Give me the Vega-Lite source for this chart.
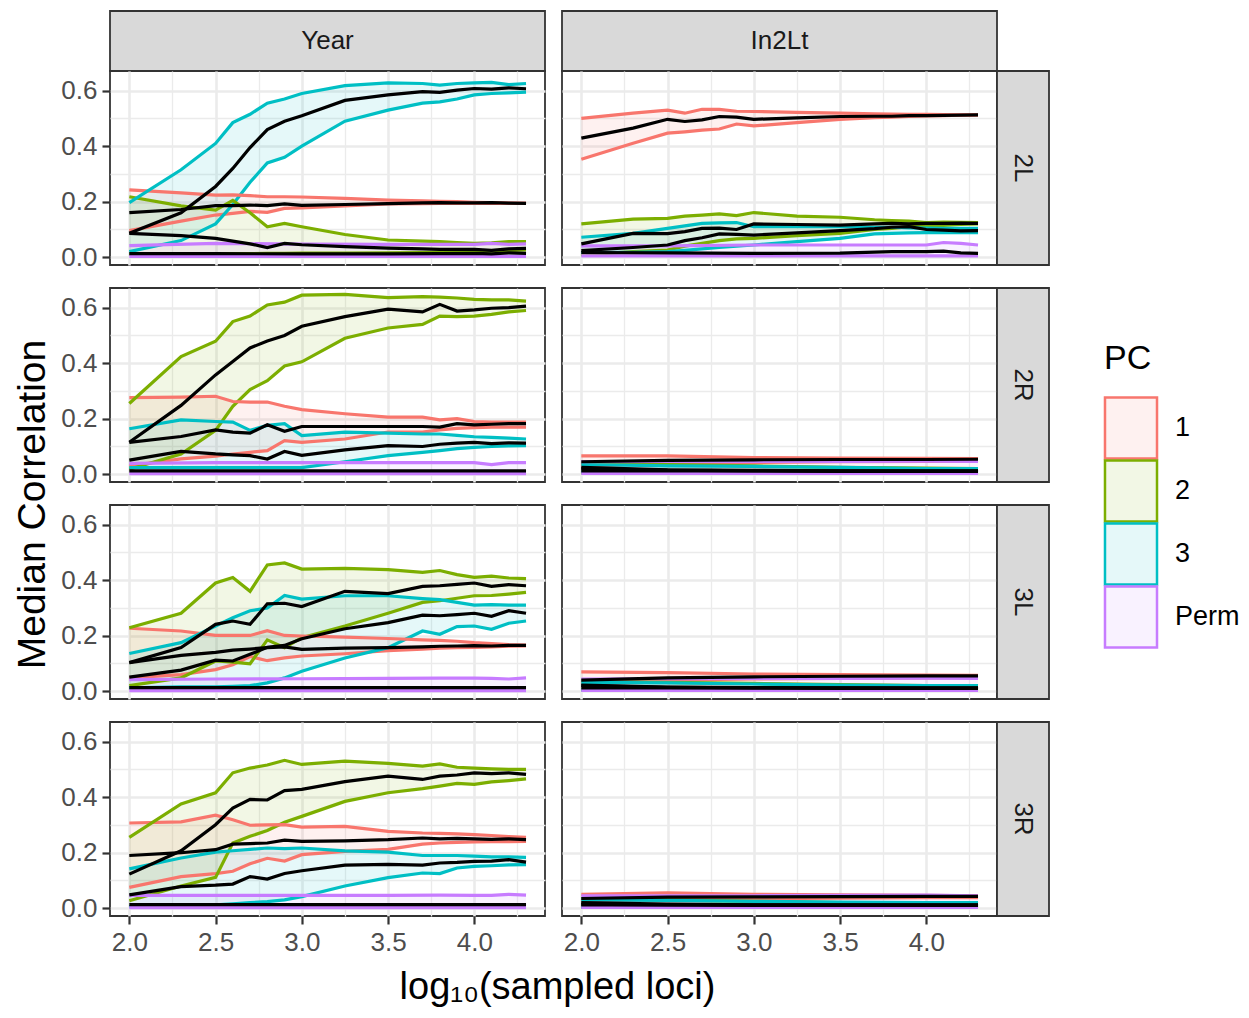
{
  "$schema": "https://vega.github.io/schema/vega-lite/v6.json",
  "padding": {"left": 12, "top": 10, "right": 5, "bottom": 5},
  "datasets": {
    "corr": [
      {"inv":"Year","arm":"2L","pc":"1","x":2,"lo":0.096,"hi":0.243,"med":0.161},
      {"inv":"Year","arm":"2L","pc":"1","x":2.3,"lo":0.13,"hi":0.232,"med":0.172},
      {"inv":"Year","arm":"2L","pc":"1","x":2.5,"lo":0.152,"hi":0.224,"med":0.186},
      {"inv":"Year","arm":"2L","pc":"1","x":2.6,"lo":0.158,"hi":0.225,"med":0.186},
      {"inv":"Year","arm":"2L","pc":"1","x":2.7,"lo":0.165,"hi":0.222,"med":0.188},
      {"inv":"Year","arm":"2L","pc":"1","x":2.8,"lo":0.162,"hi":0.218,"med":0.186},
      {"inv":"Year","arm":"2L","pc":"1","x":2.9,"lo":0.176,"hi":0.218,"med":0.192},
      {"inv":"Year","arm":"2L","pc":"1","x":3,"lo":0.178,"hi":0.217,"med":0.187},
      {"inv":"Year","arm":"2L","pc":"1","x":3.25,"lo":0.185,"hi":0.212,"med":0.19},
      {"inv":"Year","arm":"2L","pc":"1","x":3.5,"lo":0.192,"hi":0.206,"med":0.193},
      {"inv":"Year","arm":"2L","pc":"1","x":3.7,"lo":0.193,"hi":0.203,"med":0.196},
      {"inv":"Year","arm":"2L","pc":"1","x":3.8,"lo":0.194,"hi":0.201,"med":0.197},
      {"inv":"Year","arm":"2L","pc":"1","x":3.9,"lo":0.194,"hi":0.2,"med":0.196},
      {"inv":"Year","arm":"2L","pc":"1","x":4,"lo":0.194,"hi":0.198,"med":0.196},
      {"inv":"Year","arm":"2L","pc":"1","x":4.1,"lo":0.195,"hi":0.197,"med":0.197},
      {"inv":"Year","arm":"2L","pc":"1","x":4.2,"lo":0.194,"hi":0.195,"med":0.195},
      {"inv":"Year","arm":"2L","pc":"1","x":4.3,"lo":0.194,"hi":0.194,"med":0.194},

      {"inv":"Year","arm":"2L","pc":"2","x":2,"lo":0.012,"hi":0.218,"med":0.086},
      {"inv":"Year","arm":"2L","pc":"2","x":2.3,"lo":0.012,"hi":0.185,"med":0.078},
      {"inv":"Year","arm":"2L","pc":"2","x":2.5,"lo":0.012,"hi":0.17,"med":0.068},
      {"inv":"Year","arm":"2L","pc":"2","x":2.6,"lo":0.013,"hi":0.205,"med":0.058},
      {"inv":"Year","arm":"2L","pc":"2","x":2.7,"lo":0.013,"hi":0.16,"med":0.048},
      {"inv":"Year","arm":"2L","pc":"2","x":2.8,"lo":0.014,"hi":0.11,"med":0.035},
      {"inv":"Year","arm":"2L","pc":"2","x":2.9,"lo":0.014,"hi":0.122,"med":0.05},
      {"inv":"Year","arm":"2L","pc":"2","x":3,"lo":0.015,"hi":0.11,"med":0.045},
      {"inv":"Year","arm":"2L","pc":"2","x":3.25,"lo":0.015,"hi":0.082,"med":0.038},
      {"inv":"Year","arm":"2L","pc":"2","x":3.5,"lo":0.016,"hi":0.062,"med":0.033},
      {"inv":"Year","arm":"2L","pc":"2","x":3.7,"lo":0.017,"hi":0.058,"med":0.03},
      {"inv":"Year","arm":"2L","pc":"2","x":3.8,"lo":0.018,"hi":0.056,"med":0.028},
      {"inv":"Year","arm":"2L","pc":"2","x":3.9,"lo":0.019,"hi":0.053,"med":0.028},
      {"inv":"Year","arm":"2L","pc":"2","x":4,"lo":0.02,"hi":0.05,"med":0.028},
      {"inv":"Year","arm":"2L","pc":"2","x":4.1,"lo":0.022,"hi":0.052,"med":0.025},
      {"inv":"Year","arm":"2L","pc":"2","x":4.2,"lo":0.024,"hi":0.056,"med":0.03},
      {"inv":"Year","arm":"2L","pc":"2","x":4.3,"lo":0.026,"hi":0.056,"med":0.032},

      {"inv":"Year","arm":"2L","pc":"3","x":2,"lo":0.02,"hi":0.197,"med":0.086},
      {"inv":"Year","arm":"2L","pc":"3","x":2.3,"lo":0.06,"hi":0.315,"med":0.16},
      {"inv":"Year","arm":"2L","pc":"3","x":2.5,"lo":0.12,"hi":0.41,"med":0.255},
      {"inv":"Year","arm":"2L","pc":"3","x":2.6,"lo":0.19,"hi":0.485,"med":0.32},
      {"inv":"Year","arm":"2L","pc":"3","x":2.7,"lo":0.27,"hi":0.515,"med":0.395},
      {"inv":"Year","arm":"2L","pc":"3","x":2.8,"lo":0.34,"hi":0.555,"med":0.46},
      {"inv":"Year","arm":"2L","pc":"3","x":2.9,"lo":0.36,"hi":0.57,"med":0.49},
      {"inv":"Year","arm":"2L","pc":"3","x":3,"lo":0.4,"hi":0.59,"med":0.51},
      {"inv":"Year","arm":"2L","pc":"3","x":3.25,"lo":0.49,"hi":0.618,"med":0.565},
      {"inv":"Year","arm":"2L","pc":"3","x":3.5,"lo":0.53,"hi":0.628,"med":0.585},
      {"inv":"Year","arm":"2L","pc":"3","x":3.7,"lo":0.555,"hi":0.626,"med":0.597},
      {"inv":"Year","arm":"2L","pc":"3","x":3.8,"lo":0.56,"hi":0.62,"med":0.594},
      {"inv":"Year","arm":"2L","pc":"3","x":3.9,"lo":0.57,"hi":0.626,"med":0.602},
      {"inv":"Year","arm":"2L","pc":"3","x":4,"lo":0.585,"hi":0.628,"med":0.608},
      {"inv":"Year","arm":"2L","pc":"3","x":4.1,"lo":0.59,"hi":0.63,"med":0.606},
      {"inv":"Year","arm":"2L","pc":"3","x":4.2,"lo":0.592,"hi":0.622,"med":0.61},
      {"inv":"Year","arm":"2L","pc":"3","x":4.3,"lo":0.595,"hi":0.626,"med":0.607},

      {"inv":"Year","arm":"2L","pc":"Perm","x":2,"lo":0.003,"hi":0.042,"med":0.013},
      {"inv":"Year","arm":"2L","pc":"Perm","x":2.5,"lo":0.003,"hi":0.05,"med":0.013},
      {"inv":"Year","arm":"2L","pc":"Perm","x":3,"lo":0.003,"hi":0.047,"med":0.012},
      {"inv":"Year","arm":"2L","pc":"Perm","x":3.5,"lo":0.003,"hi":0.046,"med":0.012},
      {"inv":"Year","arm":"2L","pc":"Perm","x":3.8,"lo":0.003,"hi":0.046,"med":0.013},
      {"inv":"Year","arm":"2L","pc":"Perm","x":4,"lo":0.003,"hi":0.046,"med":0.014},
      {"inv":"Year","arm":"2L","pc":"Perm","x":4.1,"lo":0.003,"hi":0.05,"med":0.012},
      {"inv":"Year","arm":"2L","pc":"Perm","x":4.2,"lo":0.003,"hi":0.046,"med":0.016},
      {"inv":"Year","arm":"2L","pc":"Perm","x":4.3,"lo":0.003,"hi":0.048,"med":0.014},

      {"inv":"Year","arm":"2R","pc":"1","x":2,"lo":0.03,"hi":0.276,"med":0.115},
      {"inv":"Year","arm":"2R","pc":"1","x":2.3,"lo":0.055,"hi":0.278,"med":0.136},
      {"inv":"Year","arm":"2R","pc":"1","x":2.5,"lo":0.065,"hi":0.281,"med":0.16},
      {"inv":"Year","arm":"2R","pc":"1","x":2.6,"lo":0.073,"hi":0.262,"med":0.152},
      {"inv":"Year","arm":"2R","pc":"1","x":2.7,"lo":0.079,"hi":0.26,"med":0.148},
      {"inv":"Year","arm":"2R","pc":"1","x":2.8,"lo":0.085,"hi":0.26,"med":0.178},
      {"inv":"Year","arm":"2R","pc":"1","x":2.9,"lo":0.121,"hi":0.245,"med":0.155},
      {"inv":"Year","arm":"2R","pc":"1","x":3,"lo":0.115,"hi":0.233,"med":0.172},
      {"inv":"Year","arm":"2R","pc":"1","x":3.25,"lo":0.127,"hi":0.218,"med":0.172},
      {"inv":"Year","arm":"2R","pc":"1","x":3.5,"lo":0.152,"hi":0.206,"med":0.172},
      {"inv":"Year","arm":"2R","pc":"1","x":3.7,"lo":0.152,"hi":0.206,"med":0.172},
      {"inv":"Year","arm":"2R","pc":"1","x":3.8,"lo":0.16,"hi":0.196,"med":0.17},
      {"inv":"Year","arm":"2R","pc":"1","x":3.9,"lo":0.165,"hi":0.2,"med":0.182},
      {"inv":"Year","arm":"2R","pc":"1","x":4,"lo":0.168,"hi":0.19,"med":0.178},
      {"inv":"Year","arm":"2R","pc":"1","x":4.1,"lo":0.17,"hi":0.188,"med":0.18},
      {"inv":"Year","arm":"2R","pc":"1","x":4.2,"lo":0.17,"hi":0.188,"med":0.182},
      {"inv":"Year","arm":"2R","pc":"1","x":4.3,"lo":0.17,"hi":0.188,"med":0.182},

      {"inv":"Year","arm":"2R","pc":"2","x":2,"lo":0.018,"hi":0.255,"med":0.115},
      {"inv":"Year","arm":"2R","pc":"2","x":2.3,"lo":0.073,"hi":0.424,"med":0.248},
      {"inv":"Year","arm":"2R","pc":"2","x":2.5,"lo":0.158,"hi":0.479,"med":0.358},
      {"inv":"Year","arm":"2R","pc":"2","x":2.6,"lo":0.245,"hi":0.55,"med":0.406},
      {"inv":"Year","arm":"2R","pc":"2","x":2.7,"lo":0.305,"hi":0.57,"med":0.455},
      {"inv":"Year","arm":"2R","pc":"2","x":2.8,"lo":0.337,"hi":0.61,"med":0.48},
      {"inv":"Year","arm":"2R","pc":"2","x":2.9,"lo":0.39,"hi":0.62,"med":0.5},
      {"inv":"Year","arm":"2R","pc":"2","x":3,"lo":0.405,"hi":0.645,"med":0.533},
      {"inv":"Year","arm":"2R","pc":"2","x":3.25,"lo":0.49,"hi":0.648,"med":0.568},
      {"inv":"Year","arm":"2R","pc":"2","x":3.5,"lo":0.527,"hi":0.636,"med":0.595},
      {"inv":"Year","arm":"2R","pc":"2","x":3.7,"lo":0.54,"hi":0.64,"med":0.585},
      {"inv":"Year","arm":"2R","pc":"2","x":3.8,"lo":0.57,"hi":0.638,"med":0.612},
      {"inv":"Year","arm":"2R","pc":"2","x":3.9,"lo":0.568,"hi":0.635,"med":0.588},
      {"inv":"Year","arm":"2R","pc":"2","x":4,"lo":0.57,"hi":0.63,"med":0.592},
      {"inv":"Year","arm":"2R","pc":"2","x":4.1,"lo":0.576,"hi":0.628,"med":0.598},
      {"inv":"Year","arm":"2R","pc":"2","x":4.2,"lo":0.585,"hi":0.628,"med":0.6},
      {"inv":"Year","arm":"2R","pc":"2","x":4.3,"lo":0.59,"hi":0.624,"med":0.606},

      {"inv":"Year","arm":"2R","pc":"3","x":2,"lo":0.024,"hi":0.164,"med":0.051},
      {"inv":"Year","arm":"2R","pc":"3","x":2.3,"lo":0.024,"hi":0.196,"med":0.082},
      {"inv":"Year","arm":"2R","pc":"3","x":2.5,"lo":0.024,"hi":0.19,"med":0.073},
      {"inv":"Year","arm":"2R","pc":"3","x":2.6,"lo":0.024,"hi":0.188,"med":0.07},
      {"inv":"Year","arm":"2R","pc":"3","x":2.7,"lo":0.024,"hi":0.158,"med":0.067},
      {"inv":"Year","arm":"2R","pc":"3","x":2.8,"lo":0.024,"hi":0.176,"med":0.055},
      {"inv":"Year","arm":"2R","pc":"3","x":2.9,"lo":0.024,"hi":0.182,"med":0.082},
      {"inv":"Year","arm":"2R","pc":"3","x":3,"lo":0.024,"hi":0.139,"med":0.068},
      {"inv":"Year","arm":"2R","pc":"3","x":3.25,"lo":0.045,"hi":0.152,"med":0.088},
      {"inv":"Year","arm":"2R","pc":"3","x":3.5,"lo":0.067,"hi":0.148,"med":0.103},
      {"inv":"Year","arm":"2R","pc":"3","x":3.7,"lo":0.079,"hi":0.145,"med":0.1},
      {"inv":"Year","arm":"2R","pc":"3","x":3.8,"lo":0.085,"hi":0.145,"med":0.108},
      {"inv":"Year","arm":"2R","pc":"3","x":3.9,"lo":0.092,"hi":0.14,"med":0.112},
      {"inv":"Year","arm":"2R","pc":"3","x":4,"lo":0.097,"hi":0.135,"med":0.115},
      {"inv":"Year","arm":"2R","pc":"3","x":4.1,"lo":0.1,"hi":0.133,"med":0.11},
      {"inv":"Year","arm":"2R","pc":"3","x":4.2,"lo":0.102,"hi":0.13,"med":0.113},
      {"inv":"Year","arm":"2R","pc":"3","x":4.3,"lo":0.103,"hi":0.127,"med":0.112},

      {"inv":"Year","arm":"2R","pc":"Perm","x":2,"lo":0.002,"hi":0.039,"med":0.012},
      {"inv":"Year","arm":"2R","pc":"Perm","x":2.5,"lo":0.002,"hi":0.042,"med":0.012},
      {"inv":"Year","arm":"2R","pc":"Perm","x":3,"lo":0.002,"hi":0.042,"med":0.012},
      {"inv":"Year","arm":"2R","pc":"Perm","x":3.5,"lo":0.002,"hi":0.042,"med":0.012},
      {"inv":"Year","arm":"2R","pc":"Perm","x":3.8,"lo":0.002,"hi":0.042,"med":0.012},
      {"inv":"Year","arm":"2R","pc":"Perm","x":4,"lo":0.002,"hi":0.042,"med":0.012},
      {"inv":"Year","arm":"2R","pc":"Perm","x":4.1,"lo":0.002,"hi":0.035,"med":0.012},
      {"inv":"Year","arm":"2R","pc":"Perm","x":4.2,"lo":0.002,"hi":0.042,"med":0.012},
      {"inv":"Year","arm":"2R","pc":"Perm","x":4.3,"lo":0.002,"hi":0.042,"med":0.012},

      {"inv":"Year","arm":"3L","pc":"1","x":2,"lo":0.048,"hi":0.227,"med":0.103},
      {"inv":"Year","arm":"3L","pc":"1","x":2.3,"lo":0.06,"hi":0.217,"med":0.129},
      {"inv":"Year","arm":"3L","pc":"1","x":2.5,"lo":0.078,"hi":0.201,"med":0.14},
      {"inv":"Year","arm":"3L","pc":"1","x":2.6,"lo":0.095,"hi":0.201,"med":0.148},
      {"inv":"Year","arm":"3L","pc":"1","x":2.7,"lo":0.125,"hi":0.201,"med":0.152},
      {"inv":"Year","arm":"3L","pc":"1","x":2.8,"lo":0.11,"hi":0.218,"med":0.157},
      {"inv":"Year","arm":"3L","pc":"1","x":2.9,"lo":0.12,"hi":0.201,"med":0.16},
      {"inv":"Year","arm":"3L","pc":"1","x":3,"lo":0.127,"hi":0.199,"med":0.151},
      {"inv":"Year","arm":"3L","pc":"1","x":3.25,"lo":0.135,"hi":0.195,"med":0.155},
      {"inv":"Year","arm":"3L","pc":"1","x":3.5,"lo":0.146,"hi":0.19,"med":0.157},
      {"inv":"Year","arm":"3L","pc":"1","x":3.7,"lo":0.152,"hi":0.185,"med":0.16},
      {"inv":"Year","arm":"3L","pc":"1","x":3.8,"lo":0.155,"hi":0.183,"med":0.162},
      {"inv":"Year","arm":"3L","pc":"1","x":3.9,"lo":0.157,"hi":0.18,"med":0.163},
      {"inv":"Year","arm":"3L","pc":"1","x":4,"lo":0.158,"hi":0.175,"med":0.164},
      {"inv":"Year","arm":"3L","pc":"1","x":4.1,"lo":0.16,"hi":0.172,"med":0.163},
      {"inv":"Year","arm":"3L","pc":"1","x":4.2,"lo":0.162,"hi":0.168,"med":0.165},
      {"inv":"Year","arm":"3L","pc":"1","x":4.3,"lo":0.163,"hi":0.166,"med":0.165},

      {"inv":"Year","arm":"3L","pc":"2","x":2,"lo":0.02,"hi":0.229,"med":0.103},
      {"inv":"Year","arm":"3L","pc":"2","x":2.3,"lo":0.048,"hi":0.281,"med":0.157},
      {"inv":"Year","arm":"3L","pc":"2","x":2.5,"lo":0.109,"hi":0.39,"med":0.241},
      {"inv":"Year","arm":"3L","pc":"2","x":2.6,"lo":0.105,"hi":0.41,"med":0.253},
      {"inv":"Year","arm":"3L","pc":"2","x":2.7,"lo":0.099,"hi":0.36,"med":0.241},
      {"inv":"Year","arm":"3L","pc":"2","x":2.8,"lo":0.185,"hi":0.455,"med":0.315},
      {"inv":"Year","arm":"3L","pc":"2","x":2.9,"lo":0.157,"hi":0.462,"med":0.317},
      {"inv":"Year","arm":"3L","pc":"2","x":3,"lo":0.193,"hi":0.44,"med":0.305},
      {"inv":"Year","arm":"3L","pc":"2","x":3.25,"lo":0.235,"hi":0.443,"med":0.36},
      {"inv":"Year","arm":"3L","pc":"2","x":3.5,"lo":0.281,"hi":0.438,"med":0.352},
      {"inv":"Year","arm":"3L","pc":"2","x":3.7,"lo":0.32,"hi":0.428,"med":0.378},
      {"inv":"Year","arm":"3L","pc":"2","x":3.8,"lo":0.326,"hi":0.435,"med":0.38},
      {"inv":"Year","arm":"3L","pc":"2","x":3.9,"lo":0.335,"hi":0.42,"med":0.385},
      {"inv":"Year","arm":"3L","pc":"2","x":4,"lo":0.344,"hi":0.41,"med":0.39},
      {"inv":"Year","arm":"3L","pc":"2","x":4.1,"lo":0.345,"hi":0.415,"med":0.378},
      {"inv":"Year","arm":"3L","pc":"2","x":4.2,"lo":0.35,"hi":0.408,"med":0.384},
      {"inv":"Year","arm":"3L","pc":"2","x":4.3,"lo":0.356,"hi":0.406,"med":0.38},

      {"inv":"Year","arm":"3L","pc":"3","x":2,"lo":0.012,"hi":0.136,"med":0.051},
      {"inv":"Year","arm":"3L","pc":"3","x":2.3,"lo":0.016,"hi":0.175,"med":0.076},
      {"inv":"Year","arm":"3L","pc":"3","x":2.5,"lo":0.016,"hi":0.235,"med":0.112},
      {"inv":"Year","arm":"3L","pc":"3","x":2.6,"lo":0.018,"hi":0.265,"med":0.109},
      {"inv":"Year","arm":"3L","pc":"3","x":2.7,"lo":0.02,"hi":0.29,"med":0.133},
      {"inv":"Year","arm":"3L","pc":"3","x":2.8,"lo":0.03,"hi":0.3,"med":0.158},
      {"inv":"Year","arm":"3L","pc":"3","x":2.9,"lo":0.048,"hi":0.345,"med":0.165},
      {"inv":"Year","arm":"3L","pc":"3","x":3,"lo":0.072,"hi":0.332,"med":0.189},
      {"inv":"Year","arm":"3L","pc":"3","x":3.25,"lo":0.12,"hi":0.344,"med":0.225},
      {"inv":"Year","arm":"3L","pc":"3","x":3.5,"lo":0.157,"hi":0.344,"med":0.247},
      {"inv":"Year","arm":"3L","pc":"3","x":3.7,"lo":0.217,"hi":0.334,"med":0.274},
      {"inv":"Year","arm":"3L","pc":"3","x":3.8,"lo":0.205,"hi":0.33,"med":0.272},
      {"inv":"Year","arm":"3L","pc":"3","x":3.9,"lo":0.233,"hi":0.32,"med":0.276},
      {"inv":"Year","arm":"3L","pc":"3","x":4,"lo":0.235,"hi":0.31,"med":0.281},
      {"inv":"Year","arm":"3L","pc":"3","x":4.1,"lo":0.223,"hi":0.312,"med":0.27},
      {"inv":"Year","arm":"3L","pc":"3","x":4.2,"lo":0.245,"hi":0.31,"med":0.29},
      {"inv":"Year","arm":"3L","pc":"3","x":4.3,"lo":0.253,"hi":0.31,"med":0.281},

      {"inv":"Year","arm":"3L","pc":"Perm","x":2,"lo":0.002,"hi":0.042,"med":0.013},
      {"inv":"Year","arm":"3L","pc":"Perm","x":2.5,"lo":0.002,"hi":0.044,"med":0.013},
      {"inv":"Year","arm":"3L","pc":"Perm","x":3,"lo":0.002,"hi":0.045,"med":0.013},
      {"inv":"Year","arm":"3L","pc":"Perm","x":3.5,"lo":0.002,"hi":0.046,"med":0.013},
      {"inv":"Year","arm":"3L","pc":"Perm","x":3.8,"lo":0.002,"hi":0.047,"med":0.013},
      {"inv":"Year","arm":"3L","pc":"Perm","x":4,"lo":0.002,"hi":0.047,"med":0.013},
      {"inv":"Year","arm":"3L","pc":"Perm","x":4.1,"lo":0.002,"hi":0.046,"med":0.013},
      {"inv":"Year","arm":"3L","pc":"Perm","x":4.2,"lo":0.002,"hi":0.044,"med":0.013},
      {"inv":"Year","arm":"3L","pc":"Perm","x":4.3,"lo":0.002,"hi":0.048,"med":0.013},

      {"inv":"Year","arm":"3R","pc":"1","x":2,"lo":0.075,"hi":0.307,"med":0.19},
      {"inv":"Year","arm":"3R","pc":"1","x":2.3,"lo":0.114,"hi":0.311,"med":0.2},
      {"inv":"Year","arm":"3R","pc":"1","x":2.5,"lo":0.125,"hi":0.335,"med":0.211},
      {"inv":"Year","arm":"3R","pc":"1","x":2.6,"lo":0.133,"hi":0.319,"med":0.231},
      {"inv":"Year","arm":"3R","pc":"1","x":2.7,"lo":0.16,"hi":0.299,"med":0.233},
      {"inv":"Year","arm":"3R","pc":"1","x":2.8,"lo":0.18,"hi":0.3,"med":0.235},
      {"inv":"Year","arm":"3R","pc":"1","x":2.9,"lo":0.17,"hi":0.301,"med":0.245},
      {"inv":"Year","arm":"3R","pc":"1","x":3,"lo":0.193,"hi":0.292,"med":0.241},
      {"inv":"Year","arm":"3R","pc":"1","x":3.25,"lo":0.205,"hi":0.295,"med":0.243},
      {"inv":"Year","arm":"3R","pc":"1","x":3.5,"lo":0.212,"hi":0.277,"med":0.247},
      {"inv":"Year","arm":"3R","pc":"1","x":3.7,"lo":0.231,"hi":0.271,"med":0.253},
      {"inv":"Year","arm":"3R","pc":"1","x":3.8,"lo":0.235,"hi":0.27,"med":0.25},
      {"inv":"Year","arm":"3R","pc":"1","x":3.9,"lo":0.237,"hi":0.268,"med":0.252},
      {"inv":"Year","arm":"3R","pc":"1","x":4,"lo":0.239,"hi":0.265,"med":0.25},
      {"inv":"Year","arm":"3R","pc":"1","x":4.1,"lo":0.24,"hi":0.262,"med":0.248},
      {"inv":"Year","arm":"3R","pc":"1","x":4.2,"lo":0.24,"hi":0.258,"med":0.25},
      {"inv":"Year","arm":"3R","pc":"1","x":4.3,"lo":0.241,"hi":0.255,"med":0.247},

      {"inv":"Year","arm":"3R","pc":"2","x":2,"lo":0.027,"hi":0.255,"med":0.123},
      {"inv":"Year","arm":"3R","pc":"2","x":2.3,"lo":0.08,"hi":0.376,"med":0.207},
      {"inv":"Year","arm":"3R","pc":"2","x":2.5,"lo":0.111,"hi":0.416,"med":0.301},
      {"inv":"Year","arm":"3R","pc":"2","x":2.6,"lo":0.235,"hi":0.488,"med":0.361},
      {"inv":"Year","arm":"3R","pc":"2","x":2.7,"lo":0.259,"hi":0.505,"med":0.392},
      {"inv":"Year","arm":"3R","pc":"2","x":2.8,"lo":0.28,"hi":0.516,"med":0.39},
      {"inv":"Year","arm":"3R","pc":"2","x":2.9,"lo":0.31,"hi":0.533,"med":0.424},
      {"inv":"Year","arm":"3R","pc":"2","x":3,"lo":0.331,"hi":0.518,"med":0.428},
      {"inv":"Year","arm":"3R","pc":"2","x":3.25,"lo":0.385,"hi":0.53,"med":0.456},
      {"inv":"Year","arm":"3R","pc":"2","x":3.5,"lo":0.416,"hi":0.522,"med":0.476},
      {"inv":"Year","arm":"3R","pc":"2","x":3.7,"lo":0.431,"hi":0.512,"med":0.464},
      {"inv":"Year","arm":"3R","pc":"2","x":3.8,"lo":0.44,"hi":0.52,"med":0.476},
      {"inv":"Year","arm":"3R","pc":"2","x":3.9,"lo":0.45,"hi":0.508,"med":0.48},
      {"inv":"Year","arm":"3R","pc":"2","x":4,"lo":0.446,"hi":0.505,"med":0.488},
      {"inv":"Year","arm":"3R","pc":"2","x":4.1,"lo":0.455,"hi":0.502,"med":0.485},
      {"inv":"Year","arm":"3R","pc":"2","x":4.2,"lo":0.46,"hi":0.5,"med":0.488},
      {"inv":"Year","arm":"3R","pc":"2","x":4.3,"lo":0.466,"hi":0.5,"med":0.482},

      {"inv":"Year","arm":"3R","pc":"3","x":2,"lo":0.006,"hi":0.142,"med":0.048},
      {"inv":"Year","arm":"3R","pc":"3","x":2.3,"lo":0.01,"hi":0.181,"med":0.078},
      {"inv":"Year","arm":"3R","pc":"3","x":2.5,"lo":0.012,"hi":0.202,"med":0.083},
      {"inv":"Year","arm":"3R","pc":"3","x":2.6,"lo":0.016,"hi":0.207,"med":0.087},
      {"inv":"Year","arm":"3R","pc":"3","x":2.7,"lo":0.02,"hi":0.212,"med":0.114},
      {"inv":"Year","arm":"3R","pc":"3","x":2.8,"lo":0.024,"hi":0.217,"med":0.105},
      {"inv":"Year","arm":"3R","pc":"3","x":2.9,"lo":0.03,"hi":0.215,"med":0.125},
      {"inv":"Year","arm":"3R","pc":"3","x":3,"lo":0.042,"hi":0.217,"med":0.135},
      {"inv":"Year","arm":"3R","pc":"3","x":3.25,"lo":0.08,"hi":0.207,"med":0.155},
      {"inv":"Year","arm":"3R","pc":"3","x":3.5,"lo":0.11,"hi":0.202,"med":0.158},
      {"inv":"Year","arm":"3R","pc":"3","x":3.7,"lo":0.127,"hi":0.19,"med":0.155},
      {"inv":"Year","arm":"3R","pc":"3","x":3.8,"lo":0.125,"hi":0.19,"med":0.163},
      {"inv":"Year","arm":"3R","pc":"3","x":3.9,"lo":0.145,"hi":0.19,"med":0.165},
      {"inv":"Year","arm":"3R","pc":"3","x":4,"lo":0.151,"hi":0.188,"med":0.169},
      {"inv":"Year","arm":"3R","pc":"3","x":4.1,"lo":0.153,"hi":0.185,"med":0.17},
      {"inv":"Year","arm":"3R","pc":"3","x":4.2,"lo":0.156,"hi":0.185,"med":0.175},
      {"inv":"Year","arm":"3R","pc":"3","x":4.3,"lo":0.157,"hi":0.183,"med":0.166},

      {"inv":"Year","arm":"3R","pc":"Perm","x":2,"lo":0.002,"hi":0.046,"med":0.013},
      {"inv":"Year","arm":"3R","pc":"Perm","x":2.5,"lo":0.002,"hi":0.046,"med":0.013},
      {"inv":"Year","arm":"3R","pc":"Perm","x":3,"lo":0.002,"hi":0.046,"med":0.013},
      {"inv":"Year","arm":"3R","pc":"Perm","x":3.5,"lo":0.002,"hi":0.046,"med":0.013},
      {"inv":"Year","arm":"3R","pc":"Perm","x":3.8,"lo":0.002,"hi":0.047,"med":0.013},
      {"inv":"Year","arm":"3R","pc":"Perm","x":4,"lo":0.002,"hi":0.046,"med":0.013},
      {"inv":"Year","arm":"3R","pc":"Perm","x":4.1,"lo":0.002,"hi":0.046,"med":0.013},
      {"inv":"Year","arm":"3R","pc":"Perm","x":4.2,"lo":0.002,"hi":0.05,"med":0.013},
      {"inv":"Year","arm":"3R","pc":"Perm","x":4.3,"lo":0.002,"hi":0.047,"med":0.013},

      {"inv":"In2Lt","arm":"2L","pc":"1","x":2,"lo":0.353,"hi":0.5,"med":0.429},
      {"inv":"In2Lt","arm":"2L","pc":"1","x":2.3,"lo":0.411,"hi":0.519,"med":0.465},
      {"inv":"In2Lt","arm":"2L","pc":"1","x":2.5,"lo":0.447,"hi":0.53,"med":0.497},
      {"inv":"In2Lt","arm":"2L","pc":"1","x":2.6,"lo":0.452,"hi":0.519,"med":0.489},
      {"inv":"In2Lt","arm":"2L","pc":"1","x":2.7,"lo":0.458,"hi":0.533,"med":0.495},
      {"inv":"In2Lt","arm":"2L","pc":"1","x":2.8,"lo":0.462,"hi":0.533,"med":0.507},
      {"inv":"In2Lt","arm":"2L","pc":"1","x":2.9,"lo":0.48,"hi":0.526,"med":0.505},
      {"inv":"In2Lt","arm":"2L","pc":"1","x":3,"lo":0.473,"hi":0.525,"med":0.497},
      {"inv":"In2Lt","arm":"2L","pc":"1","x":3.25,"lo":0.485,"hi":0.522,"med":0.502},
      {"inv":"In2Lt","arm":"2L","pc":"1","x":3.5,"lo":0.497,"hi":0.519,"med":0.507},
      {"inv":"In2Lt","arm":"2L","pc":"1","x":3.7,"lo":0.503,"hi":0.517,"med":0.508},
      {"inv":"In2Lt","arm":"2L","pc":"1","x":3.8,"lo":0.505,"hi":0.516,"med":0.508},
      {"inv":"In2Lt","arm":"2L","pc":"1","x":3.9,"lo":0.507,"hi":0.515,"med":0.51},
      {"inv":"In2Lt","arm":"2L","pc":"1","x":4,"lo":0.509,"hi":0.515,"med":0.51},
      {"inv":"In2Lt","arm":"2L","pc":"1","x":4.1,"lo":0.51,"hi":0.514,"med":0.511},
      {"inv":"In2Lt","arm":"2L","pc":"1","x":4.2,"lo":0.512,"hi":0.513,"med":0.512},
      {"inv":"In2Lt","arm":"2L","pc":"1","x":4.3,"lo":0.513,"hi":0.513,"med":0.513},

      {"inv":"In2Lt","arm":"2L","pc":"2","x":2,"lo":0.008,"hi":0.12,"med":0.048},
      {"inv":"In2Lt","arm":"2L","pc":"2","x":2.3,"lo":0.02,"hi":0.137,"med":0.086},
      {"inv":"In2Lt","arm":"2L","pc":"2","x":2.5,"lo":0.026,"hi":0.14,"med":0.085},
      {"inv":"In2Lt","arm":"2L","pc":"2","x":2.6,"lo":0.04,"hi":0.148,"med":0.092},
      {"inv":"In2Lt","arm":"2L","pc":"2","x":2.7,"lo":0.05,"hi":0.152,"med":0.104},
      {"inv":"In2Lt","arm":"2L","pc":"2","x":2.8,"lo":0.06,"hi":0.156,"med":0.105},
      {"inv":"In2Lt","arm":"2L","pc":"2","x":2.9,"lo":0.066,"hi":0.15,"med":0.1},
      {"inv":"In2Lt","arm":"2L","pc":"2","x":3,"lo":0.068,"hi":0.161,"med":0.12},
      {"inv":"In2Lt","arm":"2L","pc":"2","x":3.25,"lo":0.078,"hi":0.148,"med":0.118},
      {"inv":"In2Lt","arm":"2L","pc":"2","x":3.5,"lo":0.086,"hi":0.144,"med":0.116},
      {"inv":"In2Lt","arm":"2L","pc":"2","x":3.7,"lo":0.1,"hi":0.135,"med":0.12},
      {"inv":"In2Lt","arm":"2L","pc":"2","x":3.8,"lo":0.104,"hi":0.132,"med":0.122},
      {"inv":"In2Lt","arm":"2L","pc":"2","x":3.9,"lo":0.11,"hi":0.13,"med":0.12},
      {"inv":"In2Lt","arm":"2L","pc":"2","x":4,"lo":0.112,"hi":0.125,"med":0.122},
      {"inv":"In2Lt","arm":"2L","pc":"2","x":4.1,"lo":0.115,"hi":0.127,"med":0.122},
      {"inv":"In2Lt","arm":"2L","pc":"2","x":4.2,"lo":0.118,"hi":0.126,"med":0.123},
      {"inv":"In2Lt","arm":"2L","pc":"2","x":4.3,"lo":0.12,"hi":0.125,"med":0.122},

      {"inv":"In2Lt","arm":"2L","pc":"3","x":2,"lo":0.017,"hi":0.072,"med":0.024},
      {"inv":"In2Lt","arm":"2L","pc":"3","x":2.3,"lo":0.018,"hi":0.086,"med":0.035},
      {"inv":"In2Lt","arm":"2L","pc":"3","x":2.5,"lo":0.02,"hi":0.104,"med":0.044},
      {"inv":"In2Lt","arm":"2L","pc":"3","x":2.6,"lo":0.025,"hi":0.113,"med":0.06},
      {"inv":"In2Lt","arm":"2L","pc":"3","x":2.7,"lo":0.03,"hi":0.122,"med":0.07},
      {"inv":"In2Lt","arm":"2L","pc":"3","x":2.8,"lo":0.035,"hi":0.124,"med":0.084},
      {"inv":"In2Lt","arm":"2L","pc":"3","x":2.9,"lo":0.04,"hi":0.125,"med":0.082},
      {"inv":"In2Lt","arm":"2L","pc":"3","x":3,"lo":0.044,"hi":0.11,"med":0.08},
      {"inv":"In2Lt","arm":"2L","pc":"3","x":3.25,"lo":0.056,"hi":0.11,"med":0.088},
      {"inv":"In2Lt","arm":"2L","pc":"3","x":3.5,"lo":0.068,"hi":0.11,"med":0.096},
      {"inv":"In2Lt","arm":"2L","pc":"3","x":3.7,"lo":0.084,"hi":0.108,"med":0.103},
      {"inv":"In2Lt","arm":"2L","pc":"3","x":3.8,"lo":0.086,"hi":0.108,"med":0.108},
      {"inv":"In2Lt","arm":"2L","pc":"3","x":3.9,"lo":0.088,"hi":0.106,"med":0.11},
      {"inv":"In2Lt","arm":"2L","pc":"3","x":4,"lo":0.089,"hi":0.105,"med":0.1},
      {"inv":"In2Lt","arm":"2L","pc":"3","x":4.1,"lo":0.089,"hi":0.104,"med":0.098},
      {"inv":"In2Lt","arm":"2L","pc":"3","x":4.2,"lo":0.089,"hi":0.104,"med":0.095},
      {"inv":"In2Lt","arm":"2L","pc":"3","x":4.3,"lo":0.089,"hi":0.104,"med":0.096},

      {"inv":"In2Lt","arm":"2L","pc":"Perm","x":2,"lo":0.005,"hi":0.041,"med":0.017},
      {"inv":"In2Lt","arm":"2L","pc":"Perm","x":2.5,"lo":0.005,"hi":0.041,"med":0.016},
      {"inv":"In2Lt","arm":"2L","pc":"Perm","x":3,"lo":0.005,"hi":0.044,"med":0.014},
      {"inv":"In2Lt","arm":"2L","pc":"Perm","x":3.5,"lo":0.005,"hi":0.044,"med":0.015},
      {"inv":"In2Lt","arm":"2L","pc":"Perm","x":3.8,"lo":0.005,"hi":0.044,"med":0.02},
      {"inv":"In2Lt","arm":"2L","pc":"Perm","x":4,"lo":0.005,"hi":0.044,"med":0.02},
      {"inv":"In2Lt","arm":"2L","pc":"Perm","x":4.1,"lo":0.005,"hi":0.053,"med":0.022},
      {"inv":"In2Lt","arm":"2L","pc":"Perm","x":4.2,"lo":0.005,"hi":0.05,"med":0.016},
      {"inv":"In2Lt","arm":"2L","pc":"Perm","x":4.3,"lo":0.005,"hi":0.044,"med":0.014},

      {"inv":"In2Lt","arm":"2R","pc":"1","x":2,"lo":0.03,"hi":0.066,"med":0.045},
      {"inv":"In2Lt","arm":"2R","pc":"1","x":2.5,"lo":0.038,"hi":0.066,"med":0.05},
      {"inv":"In2Lt","arm":"2R","pc":"1","x":3,"lo":0.042,"hi":0.06,"med":0.052},
      {"inv":"In2Lt","arm":"2R","pc":"1","x":3.5,"lo":0.045,"hi":0.058,"med":0.053},
      {"inv":"In2Lt","arm":"2R","pc":"1","x":4,"lo":0.046,"hi":0.057,"med":0.053},
      {"inv":"In2Lt","arm":"2R","pc":"1","x":4.3,"lo":0.047,"hi":0.056,"med":0.054},
      {"inv":"In2Lt","arm":"2R","pc":"2","x":2,"lo":0.005,"hi":0.04,"med":0.02},
      {"inv":"In2Lt","arm":"2R","pc":"2","x":2.5,"lo":0.005,"hi":0.035,"med":0.015},
      {"inv":"In2Lt","arm":"2R","pc":"2","x":3,"lo":0.006,"hi":0.03,"med":0.012},
      {"inv":"In2Lt","arm":"2R","pc":"2","x":3.5,"lo":0.006,"hi":0.025,"med":0.01},
      {"inv":"In2Lt","arm":"2R","pc":"2","x":4,"lo":0.006,"hi":0.022,"med":0.01},
      {"inv":"In2Lt","arm":"2R","pc":"2","x":4.3,"lo":0.006,"hi":0.02,"med":0.01},
      {"inv":"In2Lt","arm":"2R","pc":"3","x":2,"lo":0.008,"hi":0.035,"med":0.025},
      {"inv":"In2Lt","arm":"2R","pc":"3","x":2.5,"lo":0.006,"hi":0.03,"med":0.016},
      {"inv":"In2Lt","arm":"2R","pc":"3","x":3,"lo":0.005,"hi":0.028,"med":0.014},
      {"inv":"In2Lt","arm":"2R","pc":"3","x":3.5,"lo":0.005,"hi":0.025,"med":0.012},
      {"inv":"In2Lt","arm":"2R","pc":"3","x":4,"lo":0.005,"hi":0.02,"med":0.011},
      {"inv":"In2Lt","arm":"2R","pc":"3","x":4.3,"lo":0.005,"hi":0.02,"med":0.011},
      {"inv":"In2Lt","arm":"2R","pc":"Perm","x":2,"lo":0.003,"hi":0.045,"med":0.012},
      {"inv":"In2Lt","arm":"2R","pc":"Perm","x":2.5,"lo":0.003,"hi":0.046,"med":0.012},
      {"inv":"In2Lt","arm":"2R","pc":"Perm","x":3,"lo":0.003,"hi":0.046,"med":0.012},
      {"inv":"In2Lt","arm":"2R","pc":"Perm","x":3.5,"lo":0.003,"hi":0.046,"med":0.012},
      {"inv":"In2Lt","arm":"2R","pc":"Perm","x":4,"lo":0.003,"hi":0.047,"med":0.012},
      {"inv":"In2Lt","arm":"2R","pc":"Perm","x":4.3,"lo":0.003,"hi":0.046,"med":0.012},

      {"inv":"In2Lt","arm":"3L","pc":"1","x":2,"lo":0.03,"hi":0.07,"med":0.04},
      {"inv":"In2Lt","arm":"3L","pc":"1","x":2.5,"lo":0.04,"hi":0.067,"med":0.048},
      {"inv":"In2Lt","arm":"3L","pc":"1","x":3,"lo":0.044,"hi":0.062,"med":0.052},
      {"inv":"In2Lt","arm":"3L","pc":"1","x":3.5,"lo":0.046,"hi":0.06,"med":0.054},
      {"inv":"In2Lt","arm":"3L","pc":"1","x":4,"lo":0.048,"hi":0.058,"med":0.055},
      {"inv":"In2Lt","arm":"3L","pc":"1","x":4.3,"lo":0.05,"hi":0.057,"med":0.055},
      {"inv":"In2Lt","arm":"3L","pc":"2","x":2,"lo":0.005,"hi":0.038,"med":0.02},
      {"inv":"In2Lt","arm":"3L","pc":"2","x":2.5,"lo":0.005,"hi":0.032,"med":0.014},
      {"inv":"In2Lt","arm":"3L","pc":"2","x":3,"lo":0.005,"hi":0.028,"med":0.012},
      {"inv":"In2Lt","arm":"3L","pc":"2","x":3.5,"lo":0.005,"hi":0.024,"med":0.01},
      {"inv":"In2Lt","arm":"3L","pc":"2","x":4,"lo":0.005,"hi":0.02,"med":0.01},
      {"inv":"In2Lt","arm":"3L","pc":"2","x":4.3,"lo":0.005,"hi":0.02,"med":0.01},
      {"inv":"In2Lt","arm":"3L","pc":"3","x":2,"lo":0.005,"hi":0.032,"med":0.022},
      {"inv":"In2Lt","arm":"3L","pc":"3","x":2.5,"lo":0.005,"hi":0.03,"med":0.015},
      {"inv":"In2Lt","arm":"3L","pc":"3","x":3,"lo":0.005,"hi":0.026,"med":0.013},
      {"inv":"In2Lt","arm":"3L","pc":"3","x":3.5,"lo":0.005,"hi":0.022,"med":0.012},
      {"inv":"In2Lt","arm":"3L","pc":"3","x":4,"lo":0.005,"hi":0.02,"med":0.011},
      {"inv":"In2Lt","arm":"3L","pc":"3","x":4.3,"lo":0.005,"hi":0.02,"med":0.011},
      {"inv":"In2Lt","arm":"3L","pc":"Perm","x":2,"lo":0.003,"hi":0.044,"med":0.012},
      {"inv":"In2Lt","arm":"3L","pc":"Perm","x":2.5,"lo":0.003,"hi":0.045,"med":0.012},
      {"inv":"In2Lt","arm":"3L","pc":"Perm","x":3,"lo":0.003,"hi":0.046,"med":0.012},
      {"inv":"In2Lt","arm":"3L","pc":"Perm","x":3.5,"lo":0.003,"hi":0.046,"med":0.012},
      {"inv":"In2Lt","arm":"3L","pc":"Perm","x":4,"lo":0.003,"hi":0.047,"med":0.012},
      {"inv":"In2Lt","arm":"3L","pc":"Perm","x":4.3,"lo":0.003,"hi":0.046,"med":0.012},

      {"inv":"In2Lt","arm":"3R","pc":"1","x":2,"lo":0.025,"hi":0.05,"med":0.035},
      {"inv":"In2Lt","arm":"3R","pc":"1","x":2.5,"lo":0.03,"hi":0.055,"med":0.04},
      {"inv":"In2Lt","arm":"3R","pc":"1","x":3,"lo":0.034,"hi":0.05,"med":0.041},
      {"inv":"In2Lt","arm":"3R","pc":"1","x":3.5,"lo":0.036,"hi":0.048,"med":0.042},
      {"inv":"In2Lt","arm":"3R","pc":"1","x":4,"lo":0.038,"hi":0.046,"med":0.043},
      {"inv":"In2Lt","arm":"3R","pc":"1","x":4.3,"lo":0.038,"hi":0.045,"med":0.043},
      {"inv":"In2Lt","arm":"3R","pc":"2","x":2,"lo":0.004,"hi":0.035,"med":0.015},
      {"inv":"In2Lt","arm":"3R","pc":"2","x":2.5,"lo":0.004,"hi":0.03,"med":0.012},
      {"inv":"In2Lt","arm":"3R","pc":"2","x":3,"lo":0.004,"hi":0.025,"med":0.01},
      {"inv":"In2Lt","arm":"3R","pc":"2","x":3.5,"lo":0.004,"hi":0.02,"med":0.01},
      {"inv":"In2Lt","arm":"3R","pc":"2","x":4,"lo":0.004,"hi":0.02,"med":0.01},
      {"inv":"In2Lt","arm":"3R","pc":"2","x":4.3,"lo":0.004,"hi":0.018,"med":0.01},
      {"inv":"In2Lt","arm":"3R","pc":"3","x":2,"lo":0.005,"hi":0.03,"med":0.02},
      {"inv":"In2Lt","arm":"3R","pc":"3","x":2.5,"lo":0.005,"hi":0.028,"med":0.015},
      {"inv":"In2Lt","arm":"3R","pc":"3","x":3,"lo":0.005,"hi":0.025,"med":0.012},
      {"inv":"In2Lt","arm":"3R","pc":"3","x":3.5,"lo":0.005,"hi":0.022,"med":0.011},
      {"inv":"In2Lt","arm":"3R","pc":"3","x":4,"lo":0.005,"hi":0.02,"med":0.011},
      {"inv":"In2Lt","arm":"3R","pc":"3","x":4.3,"lo":0.005,"hi":0.02,"med":0.011},
      {"inv":"In2Lt","arm":"3R","pc":"Perm","x":2,"lo":0.003,"hi":0.045,"med":0.012},
      {"inv":"In2Lt","arm":"3R","pc":"Perm","x":2.5,"lo":0.003,"hi":0.045,"med":0.012},
      {"inv":"In2Lt","arm":"3R","pc":"Perm","x":3,"lo":0.003,"hi":0.045,"med":0.012},
      {"inv":"In2Lt","arm":"3R","pc":"Perm","x":3.5,"lo":0.003,"hi":0.046,"med":0.012},
      {"inv":"In2Lt","arm":"3R","pc":"Perm","x":4,"lo":0.003,"hi":0.047,"med":0.012},
      {"inv":"In2Lt","arm":"3R","pc":"Perm","x":4.3,"lo":0.003,"hi":0.045,"med":0.012}
    ]
  },
  "data": {"name": "corr"},
  "config": {
    "font": "Liberation Sans, Arial, Helvetica, sans-serif",
    "view": {"stroke": null},
    "axis": {
      "domain": false,
      "grid": true,
      "gridColor": "#EBEBEB",
      "labelFontSize": 26,
      "labelColor": "#4D4D4D",
      "labelPadding": 5,
      "labelOverlap": false,
      "labelFlush": false,
      "tickSize": 8,
      "tickWidth": 2.2,
      "titleFontSize": 38,
      "titleFontWeight": "normal",
      "titleColor": "#000000"
    },
    "legend": {
      "titleFontSize": 34,
      "titleFontWeight": "normal",
      "titleColor": "#000000",
      "labelFontSize": 27,
      "labelColor": "#000000",
      "symbolType": "M-1.02,-1.2H1.02V1.2H-1.02Z",
      "symbolSize": 2601,
      "symbolStrokeWidth": 2.5,
      "rowPadding": -10,
      "labelOffset": 17,
      "titlePadding": 25,
      "padding": 0
    }
  },
  "columns": 4,
  "spacing": 0,
  "bounds": "flush",
  "concat": [
    {"width": 435, "height": 60, "view": {"fill": "#D9D9D9", "stroke": "#333333", "strokeWidth": 1.8},
     "data": {"values": [{"label": "Year"}]},
     "mark": {"type": "text", "fontSize": 26, "color": "#1A1A1A"},
     "encoding": {"text": {"field": "label"}}},
    {"width": 17, "height": 60, "data": {"values": []}, "mark": "text"},
    {"width": 435, "height": 60, "view": {"fill": "#D9D9D9", "stroke": "#333333", "strokeWidth": 1.8},
     "data": {"values": [{"label": "In2Lt"}]},
     "mark": {"type": "text", "fontSize": 26, "color": "#1A1A1A"},
     "encoding": {"text": {"field": "label"}}},
    {"width": 52, "height": 60, "data": {"values": []}, "mark": "text"},

    {"width": 435, "height": 194, "view": {"stroke": "#333333", "strokeWidth": 1.8},
     "transform": [{"filter": "datum.inv === 'Year' && datum.arm === '2L'"}],
     "encoding": {
       "x": {"field": "x", "type": "quantitative", "scale": {"domain": [1.888, 4.41], "nice": false, "zero": false},
             "axis": {"values": [2,2.25,2.5,2.75,3,3.25,3.5,3.75,4,4.25], "labels": false, "ticks": false, "title": null,
                      "gridWidth": {"condition": {"test": "round(datum.value*4) % 2 == 1", "value": 1.3}, "value": 2.6}}},
       "y": {"field": "lo", "type": "quantitative", "stack": null, "scale": {"domain": [-0.028, 0.671], "nice": false, "zero": false},
             "axis": {"values": [0,0.1,0.2,0.3,0.4,0.5,0.6], "title": null,
                      "labelExpr": "round(datum.value*10) % 2 == 1 ? '' : format(datum.value, '.1f')",
                      "tickColor": {"condition": {"test": "round(datum.value*10) % 2 == 1", "value": "transparent"}, "value": "#333333"},
                      "gridWidth": {"condition": {"test": "round(datum.value*10) % 2 == 1", "value": 1.3}, "value": 2.6}}},
       "color": {"field": "pc", "type": "nominal", "title": "PC",
                 "scale": {"domain": ["1","2","3","Perm"], "range": ["#F8766D","#7CAE00","#00BFC4","#C77CFF"]},
                 "legend": {"orient": "none", "legendX": 994, "legendY": 331,
                            "encode": {"symbols": {"update": {"fill": {"scale": "color", "field": "value"}, "fillOpacity": {"value": 0.1}, "stroke": {"scale": "color", "field": "value"}, "opacity": {"value": 1}}}}}}
     },
     "layer": [
       {"mark": {"type": "area", "fillOpacity": 0.1}, "encoding": {"y2": {"field": "hi"}}},
       {"mark": {"type": "line", "strokeWidth": 3.2}},
       {"mark": {"type": "line", "strokeWidth": 3.2}, "encoding": {"y": {"field": "hi", "type": "quantitative"}}},
       {"mark": {"type": "line", "strokeWidth": 3.2, "color": "#000000"}, "encoding": {"y": {"field": "med", "type": "quantitative"}, "color": {"value": "#000000"}, "detail": {"field": "pc", "type": "nominal"}}}
     ]},
    {"width": 17, "height": 194, "data": {"values": []}, "mark": "text"},
    {"width": 435, "height": 194, "view": {"stroke": "#333333", "strokeWidth": 1.8},
     "transform": [{"filter": "datum.inv === 'In2Lt' && datum.arm === '2L'"}],
     "encoding": {
       "x": {"field": "x", "type": "quantitative", "scale": {"domain": [1.888, 4.41], "nice": false, "zero": false},
             "axis": {"values": [2,2.25,2.5,2.75,3,3.25,3.5,3.75,4,4.25], "labels": false, "ticks": false, "title": null,
                      "gridWidth": {"condition": {"test": "round(datum.value*4) % 2 == 1", "value": 1.3}, "value": 2.6}}},
       "y": {"field": "lo", "type": "quantitative", "stack": null, "scale": {"domain": [-0.028, 0.671], "nice": false, "zero": false},
             "axis": {"values": [0,0.1,0.2,0.3,0.4,0.5,0.6], "labels": false, "ticks": false, "title": null,
                      "gridWidth": {"condition": {"test": "round(datum.value*10) % 2 == 1", "value": 1.3}, "value": 2.6}}},
       "color": {"field": "pc", "type": "nominal", "title": "PC",
                 "scale": {"domain": ["1","2","3","Perm"], "range": ["#F8766D","#7CAE00","#00BFC4","#C77CFF"]},
                 "legend": {"orient": "none", "legendX": 994, "legendY": 331,
                            "encode": {"symbols": {"update": {"fill": {"scale": "color", "field": "value"}, "fillOpacity": {"value": 0.1}, "stroke": {"scale": "color", "field": "value"}, "opacity": {"value": 1}}}}}}
     },
     "layer": [
       {"mark": {"type": "area", "fillOpacity": 0.1}, "encoding": {"y2": {"field": "hi"}}},
       {"mark": {"type": "line", "strokeWidth": 3.2}},
       {"mark": {"type": "line", "strokeWidth": 3.2}, "encoding": {"y": {"field": "hi", "type": "quantitative"}}},
       {"mark": {"type": "line", "strokeWidth": 3.2, "color": "#000000"}, "encoding": {"y": {"field": "med", "type": "quantitative"}, "color": {"value": "#000000"}, "detail": {"field": "pc", "type": "nominal"}}}
     ]},
    {"width": 52, "height": 194, "view": {"fill": "#D9D9D9", "stroke": "#333333", "strokeWidth": 1.8},
     "data": {"values": [{"label": "2L"}]},
     "mark": {"type": "text", "fontSize": 26, "color": "#1A1A1A", "angle": 90},
     "encoding": {"text": {"field": "label"}}},

    {"width": 435, "height": 23, "data": {"values": []}, "mark": "text"},
    {"width": 17, "height": 23, "data": {"values": []}, "mark": "text"},
    {"width": 435, "height": 23, "data": {"values": []}, "mark": "text"},
    {"width": 52, "height": 23, "data": {"values": []}, "mark": "text"},

    {"width": 435, "height": 194, "view": {"stroke": "#333333", "strokeWidth": 1.8},
     "transform": [{"filter": "datum.inv === 'Year' && datum.arm === '2R'"}],
     "encoding": {
       "x": {"field": "x", "type": "quantitative", "scale": {"domain": [1.888, 4.41], "nice": false, "zero": false},
             "axis": {"values": [2,2.25,2.5,2.75,3,3.25,3.5,3.75,4,4.25], "labels": false, "ticks": false, "title": null,
                      "gridWidth": {"condition": {"test": "round(datum.value*4) % 2 == 1", "value": 1.3}, "value": 2.6}}},
       "y": {"field": "lo", "type": "quantitative", "stack": null, "scale": {"domain": [-0.028, 0.671], "nice": false, "zero": false},
             "axis": {"values": [0,0.1,0.2,0.3,0.4,0.5,0.6], "title": "Median Correlation", "titleFontSize": 39,
                      "titleX": -78, "titleY": 216, "titleAngle": 270, "titleAlign": "center", "titleBaseline": "middle",
                      "labelExpr": "round(datum.value*10) % 2 == 1 ? '' : format(datum.value, '.1f')",
                      "tickColor": {"condition": {"test": "round(datum.value*10) % 2 == 1", "value": "transparent"}, "value": "#333333"},
                      "gridWidth": {"condition": {"test": "round(datum.value*10) % 2 == 1", "value": 1.3}, "value": 2.6}}},
       "color": {"field": "pc", "type": "nominal", "title": "PC",
                 "scale": {"domain": ["1","2","3","Perm"], "range": ["#F8766D","#7CAE00","#00BFC4","#C77CFF"]},
                 "legend": {"orient": "none", "legendX": 994, "legendY": 331,
                            "encode": {"symbols": {"update": {"fill": {"scale": "color", "field": "value"}, "fillOpacity": {"value": 0.1}, "stroke": {"scale": "color", "field": "value"}, "opacity": {"value": 1}}}}}}
     },
     "layer": [
       {"mark": {"type": "area", "fillOpacity": 0.1}, "encoding": {"y2": {"field": "hi"}}},
       {"mark": {"type": "line", "strokeWidth": 3.2}},
       {"mark": {"type": "line", "strokeWidth": 3.2}, "encoding": {"y": {"field": "hi", "type": "quantitative"}}},
       {"mark": {"type": "line", "strokeWidth": 3.2, "color": "#000000"}, "encoding": {"y": {"field": "med", "type": "quantitative"}, "color": {"value": "#000000"}, "detail": {"field": "pc", "type": "nominal"}}}
     ]},
    {"width": 17, "height": 194, "data": {"values": []}, "mark": "text"},
    {"width": 435, "height": 194, "view": {"stroke": "#333333", "strokeWidth": 1.8},
     "transform": [{"filter": "datum.inv === 'In2Lt' && datum.arm === '2R'"}],
     "encoding": {
       "x": {"field": "x", "type": "quantitative", "scale": {"domain": [1.888, 4.41], "nice": false, "zero": false},
             "axis": {"values": [2,2.25,2.5,2.75,3,3.25,3.5,3.75,4,4.25], "labels": false, "ticks": false, "title": null,
                      "gridWidth": {"condition": {"test": "round(datum.value*4) % 2 == 1", "value": 1.3}, "value": 2.6}}},
       "y": {"field": "lo", "type": "quantitative", "stack": null, "scale": {"domain": [-0.028, 0.671], "nice": false, "zero": false},
             "axis": {"values": [0,0.1,0.2,0.3,0.4,0.5,0.6], "labels": false, "ticks": false, "title": null,
                      "gridWidth": {"condition": {"test": "round(datum.value*10) % 2 == 1", "value": 1.3}, "value": 2.6}}},
       "color": {"field": "pc", "type": "nominal", "title": "PC",
                 "scale": {"domain": ["1","2","3","Perm"], "range": ["#F8766D","#7CAE00","#00BFC4","#C77CFF"]},
                 "legend": {"orient": "none", "legendX": 994, "legendY": 331,
                            "encode": {"symbols": {"update": {"fill": {"scale": "color", "field": "value"}, "fillOpacity": {"value": 0.1}, "stroke": {"scale": "color", "field": "value"}, "opacity": {"value": 1}}}}}}
     },
     "layer": [
       {"mark": {"type": "area", "fillOpacity": 0.1}, "encoding": {"y2": {"field": "hi"}}},
       {"mark": {"type": "line", "strokeWidth": 3.2}},
       {"mark": {"type": "line", "strokeWidth": 3.2}, "encoding": {"y": {"field": "hi", "type": "quantitative"}}},
       {"mark": {"type": "line", "strokeWidth": 3.2, "color": "#000000"}, "encoding": {"y": {"field": "med", "type": "quantitative"}, "color": {"value": "#000000"}, "detail": {"field": "pc", "type": "nominal"}}}
     ]},
    {"width": 52, "height": 194, "view": {"fill": "#D9D9D9", "stroke": "#333333", "strokeWidth": 1.8},
     "data": {"values": [{"label": "2R"}]},
     "mark": {"type": "text", "fontSize": 26, "color": "#1A1A1A", "angle": 90},
     "encoding": {"text": {"field": "label"}}},

    {"width": 435, "height": 23, "data": {"values": []}, "mark": "text"},
    {"width": 17, "height": 23, "data": {"values": []}, "mark": "text"},
    {"width": 435, "height": 23, "data": {"values": []}, "mark": "text"},
    {"width": 52, "height": 23, "data": {"values": []}, "mark": "text"},

    {"width": 435, "height": 194, "view": {"stroke": "#333333", "strokeWidth": 1.8},
     "transform": [{"filter": "datum.inv === 'Year' && datum.arm === '3L'"}],
     "encoding": {
       "x": {"field": "x", "type": "quantitative", "scale": {"domain": [1.888, 4.41], "nice": false, "zero": false},
             "axis": {"values": [2,2.25,2.5,2.75,3,3.25,3.5,3.75,4,4.25], "labels": false, "ticks": false, "title": null,
                      "gridWidth": {"condition": {"test": "round(datum.value*4) % 2 == 1", "value": 1.3}, "value": 2.6}}},
       "y": {"field": "lo", "type": "quantitative", "stack": null, "scale": {"domain": [-0.028, 0.671], "nice": false, "zero": false},
             "axis": {"values": [0,0.1,0.2,0.3,0.4,0.5,0.6], "title": null,
                      "labelExpr": "round(datum.value*10) % 2 == 1 ? '' : format(datum.value, '.1f')",
                      "tickColor": {"condition": {"test": "round(datum.value*10) % 2 == 1", "value": "transparent"}, "value": "#333333"},
                      "gridWidth": {"condition": {"test": "round(datum.value*10) % 2 == 1", "value": 1.3}, "value": 2.6}}},
       "color": {"field": "pc", "type": "nominal", "title": "PC",
                 "scale": {"domain": ["1","2","3","Perm"], "range": ["#F8766D","#7CAE00","#00BFC4","#C77CFF"]},
                 "legend": {"orient": "none", "legendX": 994, "legendY": 331,
                            "encode": {"symbols": {"update": {"fill": {"scale": "color", "field": "value"}, "fillOpacity": {"value": 0.1}, "stroke": {"scale": "color", "field": "value"}, "opacity": {"value": 1}}}}}}
     },
     "layer": [
       {"mark": {"type": "area", "fillOpacity": 0.1}, "encoding": {"y2": {"field": "hi"}}},
       {"mark": {"type": "line", "strokeWidth": 3.2}},
       {"mark": {"type": "line", "strokeWidth": 3.2}, "encoding": {"y": {"field": "hi", "type": "quantitative"}}},
       {"mark": {"type": "line", "strokeWidth": 3.2, "color": "#000000"}, "encoding": {"y": {"field": "med", "type": "quantitative"}, "color": {"value": "#000000"}, "detail": {"field": "pc", "type": "nominal"}}}
     ]},
    {"width": 17, "height": 194, "data": {"values": []}, "mark": "text"},
    {"width": 435, "height": 194, "view": {"stroke": "#333333", "strokeWidth": 1.8},
     "transform": [{"filter": "datum.inv === 'In2Lt' && datum.arm === '3L'"}],
     "encoding": {
       "x": {"field": "x", "type": "quantitative", "scale": {"domain": [1.888, 4.41], "nice": false, "zero": false},
             "axis": {"values": [2,2.25,2.5,2.75,3,3.25,3.5,3.75,4,4.25], "labels": false, "ticks": false, "title": null,
                      "gridWidth": {"condition": {"test": "round(datum.value*4) % 2 == 1", "value": 1.3}, "value": 2.6}}},
       "y": {"field": "lo", "type": "quantitative", "stack": null, "scale": {"domain": [-0.028, 0.671], "nice": false, "zero": false},
             "axis": {"values": [0,0.1,0.2,0.3,0.4,0.5,0.6], "labels": false, "ticks": false, "title": null,
                      "gridWidth": {"condition": {"test": "round(datum.value*10) % 2 == 1", "value": 1.3}, "value": 2.6}}},
       "color": {"field": "pc", "type": "nominal", "title": "PC",
                 "scale": {"domain": ["1","2","3","Perm"], "range": ["#F8766D","#7CAE00","#00BFC4","#C77CFF"]},
                 "legend": {"orient": "none", "legendX": 994, "legendY": 331,
                            "encode": {"symbols": {"update": {"fill": {"scale": "color", "field": "value"}, "fillOpacity": {"value": 0.1}, "stroke": {"scale": "color", "field": "value"}, "opacity": {"value": 1}}}}}}
     },
     "layer": [
       {"mark": {"type": "area", "fillOpacity": 0.1}, "encoding": {"y2": {"field": "hi"}}},
       {"mark": {"type": "line", "strokeWidth": 3.2}},
       {"mark": {"type": "line", "strokeWidth": 3.2}, "encoding": {"y": {"field": "hi", "type": "quantitative"}}},
       {"mark": {"type": "line", "strokeWidth": 3.2, "color": "#000000"}, "encoding": {"y": {"field": "med", "type": "quantitative"}, "color": {"value": "#000000"}, "detail": {"field": "pc", "type": "nominal"}}}
     ]},
    {"width": 52, "height": 194, "view": {"fill": "#D9D9D9", "stroke": "#333333", "strokeWidth": 1.8},
     "data": {"values": [{"label": "3L"}]},
     "mark": {"type": "text", "fontSize": 26, "color": "#1A1A1A", "angle": 90},
     "encoding": {"text": {"field": "label"}}},

    {"width": 435, "height": 23, "data": {"values": []}, "mark": "text"},
    {"width": 17, "height": 23, "data": {"values": []}, "mark": "text"},
    {"width": 435, "height": 23, "data": {"values": []}, "mark": "text"},
    {"width": 52, "height": 23, "data": {"values": []}, "mark": "text"},

    {"width": 435, "height": 194, "view": {"stroke": "#333333", "strokeWidth": 1.8},
     "transform": [{"filter": "datum.inv === 'Year' && datum.arm === '3R'"}],
     "encoding": {
       "x": {"field": "x", "type": "quantitative", "scale": {"domain": [1.888, 4.41], "nice": false, "zero": false},
             "axis": {"values": [2,2.25,2.5,2.75,3,3.25,3.5,3.75,4,4.25], "title": "log₁₀(sampled loci)",
                      "titleX": 447, "titleY": 82, "titleAlign": "center", "titleBaseline": "alphabetic",
                      "labelExpr": "round(datum.value*4) % 2 == 1 ? '' : format(datum.value, '.1f')",
                      "tickColor": {"condition": {"test": "round(datum.value*4) % 2 == 1", "value": "transparent"}, "value": "#333333"},
                      "gridWidth": {"condition": {"test": "round(datum.value*4) % 2 == 1", "value": 1.3}, "value": 2.6}}},
       "y": {"field": "lo", "type": "quantitative", "stack": null, "scale": {"domain": [-0.028, 0.671], "nice": false, "zero": false},
             "axis": {"values": [0,0.1,0.2,0.3,0.4,0.5,0.6], "title": null,
                      "labelExpr": "round(datum.value*10) % 2 == 1 ? '' : format(datum.value, '.1f')",
                      "tickColor": {"condition": {"test": "round(datum.value*10) % 2 == 1", "value": "transparent"}, "value": "#333333"},
                      "gridWidth": {"condition": {"test": "round(datum.value*10) % 2 == 1", "value": 1.3}, "value": 2.6}}},
       "color": {"field": "pc", "type": "nominal", "title": "PC",
                 "scale": {"domain": ["1","2","3","Perm"], "range": ["#F8766D","#7CAE00","#00BFC4","#C77CFF"]},
                 "legend": {"orient": "none", "legendX": 994, "legendY": 331,
                            "encode": {"symbols": {"update": {"fill": {"scale": "color", "field": "value"}, "fillOpacity": {"value": 0.1}, "stroke": {"scale": "color", "field": "value"}, "opacity": {"value": 1}}}}}}
     },
     "layer": [
       {"mark": {"type": "area", "fillOpacity": 0.1}, "encoding": {"y2": {"field": "hi"}}},
       {"mark": {"type": "line", "strokeWidth": 3.2}},
       {"mark": {"type": "line", "strokeWidth": 3.2}, "encoding": {"y": {"field": "hi", "type": "quantitative"}}},
       {"mark": {"type": "line", "strokeWidth": 3.2, "color": "#000000"}, "encoding": {"y": {"field": "med", "type": "quantitative"}, "color": {"value": "#000000"}, "detail": {"field": "pc", "type": "nominal"}}}
     ]},
    {"width": 17, "height": 194, "data": {"values": []}, "mark": "text"},
    {"width": 435, "height": 194, "view": {"stroke": "#333333", "strokeWidth": 1.8},
     "transform": [{"filter": "datum.inv === 'In2Lt' && datum.arm === '3R'"}],
     "encoding": {
       "x": {"field": "x", "type": "quantitative", "scale": {"domain": [1.888, 4.41], "nice": false, "zero": false},
             "axis": {"values": [2,2.25,2.5,2.75,3,3.25,3.5,3.75,4,4.25], "title": null,
                      "labelExpr": "round(datum.value*4) % 2 == 1 ? '' : format(datum.value, '.1f')",
                      "tickColor": {"condition": {"test": "round(datum.value*4) % 2 == 1", "value": "transparent"}, "value": "#333333"},
                      "gridWidth": {"condition": {"test": "round(datum.value*4) % 2 == 1", "value": 1.3}, "value": 2.6}}},
       "y": {"field": "lo", "type": "quantitative", "stack": null, "scale": {"domain": [-0.028, 0.671], "nice": false, "zero": false},
             "axis": {"values": [0,0.1,0.2,0.3,0.4,0.5,0.6], "labels": false, "ticks": false, "title": null,
                      "gridWidth": {"condition": {"test": "round(datum.value*10) % 2 == 1", "value": 1.3}, "value": 2.6}}},
       "color": {"field": "pc", "type": "nominal", "title": "PC",
                 "scale": {"domain": ["1","2","3","Perm"], "range": ["#F8766D","#7CAE00","#00BFC4","#C77CFF"]},
                 "legend": {"orient": "none", "legendX": 994, "legendY": 331,
                            "encode": {"symbols": {"update": {"fill": {"scale": "color", "field": "value"}, "fillOpacity": {"value": 0.1}, "stroke": {"scale": "color", "field": "value"}, "opacity": {"value": 1}}}}}}
     },
     "layer": [
       {"mark": {"type": "area", "fillOpacity": 0.1}, "encoding": {"y2": {"field": "hi"}}},
       {"mark": {"type": "line", "strokeWidth": 3.2}},
       {"mark": {"type": "line", "strokeWidth": 3.2}, "encoding": {"y": {"field": "hi", "type": "quantitative"}}},
       {"mark": {"type": "line", "strokeWidth": 3.2, "color": "#000000"}, "encoding": {"y": {"field": "med", "type": "quantitative"}, "color": {"value": "#000000"}, "detail": {"field": "pc", "type": "nominal"}}}
     ]},
    {"width": 52, "height": 194, "view": {"fill": "#D9D9D9", "stroke": "#333333", "strokeWidth": 1.8},
     "data": {"values": [{"label": "3R"}]},
     "mark": {"type": "text", "fontSize": 26, "color": "#1A1A1A", "angle": 90},
     "encoding": {"text": {"field": "label"}}}
  ]
}
